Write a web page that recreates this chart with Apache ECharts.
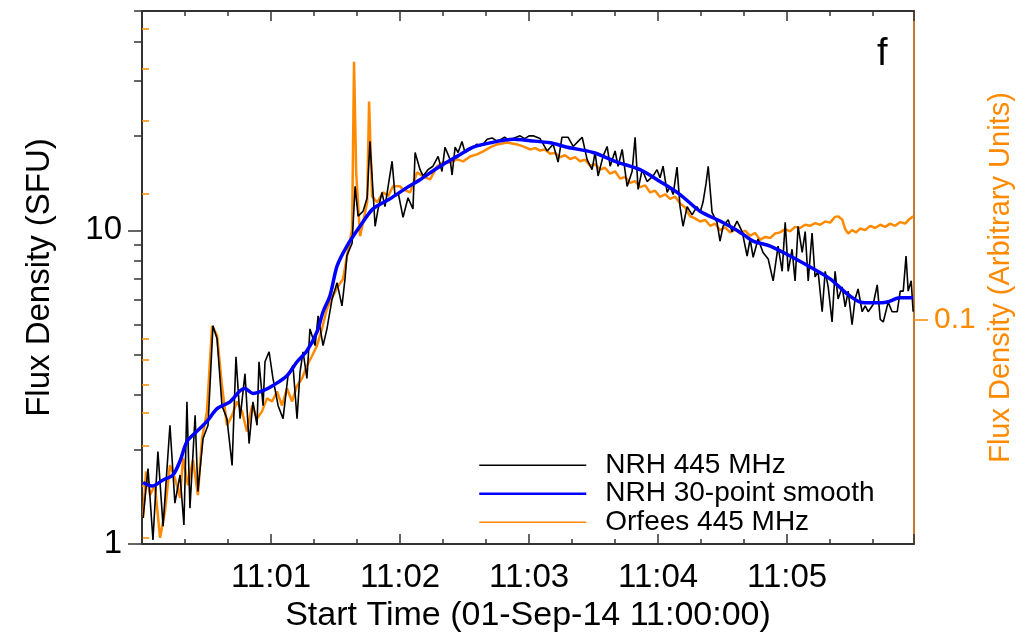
<!DOCTYPE html>
<html><head><meta charset="utf-8">
<script src="https://cdn.jsdelivr.net/npm/echarts@6/dist/echarts.min.js"></script>
<style>html,body{margin:0;padding:0;background:#fff}#c{width:1036px;height:638px}</style>
</head><body><div id="c"></div>
<script>
// ---- data (seconds after 11:00:00) ----
const nrhTimes = [0.5,2.8,5.1,7.4,9.8,13.0,15.3,17.7,19.5,20.9,22.3,24.7,26.0,28.4,30.7,33.0,34.9,37.2,39.5,41.9,43.7,45.6,47.9,49.8,51.6,53.5,54.4,56.3,57.2,59.1,60.9,63.3,65.6,67.9,70.2,72.1,73.5,74.9,76.7,78.1,80.5,81.9,84.2,86.0,88.4,90.7,93.0,94.4,95.3,97.7,99.1,100.5,102.8,104.7,106.0,108.4,109.8,111.6,113.0,116.3,117.7,119.1,121.4,123.7,126.0,127.0,129.3,130.7,133.0,135.3,137.7,139.5,140.9,143.3,144.2,145.6,147.0,148.8,150.2,152.6,153.9,155.8,157.2,158.6,160.5,162.8,164.7,166.5,168.6,170.5,172.6,174.0,175.8,178.0,180.0,181.9,185.1,188.4,191.2,193.5,195.3,198.1,200.5,202.8,204.7,207.0,209.3,210.7,212.1,214.4,216.3,217.7,220.0,221.4,223.3,225.6,227.9,229.3,230.7,232.6,234.9,237.7,239.5,240.9,242.3,244.2,245.6,247.0,248.8,250.2,251.6,253.5,255.8,258.1,259.5,260.9,262.3,263.3,265.1,267.4,268.8,270.2,272.6,274.4,276.7,279.1,281.4,282.8,284.2,286.5,288.8,291.2,293.5,295.8,297.7,299.1,300.5,302.3,303.7,305.1,307.0,308.4,309.8,311.6,313.0,314.4,316.3,317.7,319.1,320.9,322.3,323.7,325.6,327.0,328.4,330.2,331.6,333.0,334.9,336.3,337.7,340.0,341.9,343.3,344.7,347.0,348.8,351.2,352.6,354.0,355.3,356.3,357.7,358.6];
const nrhFlux = [1.21,1.74,1.03,1.97,1.14,2.39,1.35,1.66,1.15,2.84,1.30,2.57,1.47,2.17,2.39,4.96,4.51,2.76,2.51,1.78,3.95,2.51,3.49,2.09,2.84,2.39,3.81,2.76,3.81,4.10,3.37,2.76,2.51,3.44,3.71,2.51,3.54,4.10,3.37,4.85,4.29,5.34,4.29,4.85,6.04,6.8,5.74,7.0,8.3,9.1,13.8,11.1,11.5,12.7,19.2,10.3,11.7,13.2,11.9,16.6,12.8,13.2,11.0,12.7,11.7,17.7,15.6,14.9,15.6,16.0,17.2,15.4,18.4,16.8,15.0,18.4,17.7,19.2,17.7,18.1,18.4,18.8,18.6,18.8,19.5,19.7,19.3,19.4,19.8,19.4,19.6,19.8,20.0,19.6,20.0,20.0,19.6,17.9,18.8,16.5,19.8,19.8,18.5,19.2,19.8,16.8,15.6,17.7,14.9,17.2,18.5,16.0,17.9,16.0,18.1,13.8,15.4,19.8,13.5,15.6,14.3,14.9,15.6,14.7,16.0,13.2,13.8,13.0,15.9,11.9,10.3,11.9,11.2,11.9,11.4,12.3,14.1,16.0,11.4,10.6,9.23,10.3,10.8,9.9,10.7,9.9,8.28,9.38,8.2,9.38,8.5,8.1,6.9,8.9,7.4,10.6,7.4,8.7,6.9,10.3,8.5,9.9,6.9,9.8,7.1,7.4,5.5,7.4,6.6,5.1,7.4,6.04,6.6,5.7,6.4,5.0,6.04,6.5,5.5,5.74,5.5,5.8,6.7,5.2,5.1,5.9,5.5,5.5,6.4,6.4,8.28,6.4,6.9,5.5];

const smoothTimes = [0.5,4.7,9.8,14.4,17.7,20.9,25.6,30.2,34.9,40.9,45.6,47.9,51.6,56.3,60.9,67.4,72.1,76.7,81.4,84.2,87.4,90.7,95.3,101.4,107.4,115.3,123.3,129.3,138.6,146.5,154.0,161.9,172.6,180.5,189.8,197.7,209.8,220.9,231.6,240.9,250.2,259.5,268.8,278.1,284.2,292.1,301.4,310.7,320.0,327.9,333.9,340.0,346.5,352.5,358.6];
const smoothFlux = [1.57,1.53,1.60,1.66,1.84,2.12,2.29,2.46,2.70,2.84,3.08,3.13,3.02,3.08,3.20,3.44,3.81,4.13,4.75,5.5,6.18,7.69,8.91,10.3,11.7,12.6,13.7,14.5,16.0,17.2,18.4,19.0,19.5,19.3,19.0,18.4,17.7,16.5,15.6,14.3,13.0,11.5,10.7,9.86,9.23,8.91,8.28,7.64,7.00,6.27,5.91,5.87,5.91,6.09,6.09];

const orfeesTimes = [0.5,1.9,3.7,6.0,8.4,10.7,13.0,15.3,17.7,19.1,21.4,23.7,26.0,27.9,30.2,32.6,34.9,37.2,39.5,41.9,44.2,46.5,48.8,51.2,53.5,55.8,58.1,60.5,62.8,65.1,67.4,69.8,72.1,74.4,76.7,79.1,81.4,83.7,86.0,88.8,91.2,93.5,95.3,97.7,98.6,99.6,101.4,102.8,104.7,105.6,107.0,109.3,112.1,114.5,116.7,120.0,121.4,124.7,127.9,130.7,134.0,137.2,140.0,143.3,146.5,149.3,152.6,155.8,158.6,161.9,165.1,169.8,174.4,177.2,180.5,182.8,185.1,187.4,189.8,192.1,194.4,196.7,199.1,201.4,203.7,206.0,208.4,210.7,213.0,215.3,217.7,220.0,222.3,224.7,227.0,229.3,231.6,234.0,236.3,238.6,240.9,243.3,245.6,247.9,250.2,252.6,254.9,257.2,259.5,261.9,264.2,266.5,268.8,271.2,273.5,275.8,278.1,280.5,282.8,285.1,287.4,289.8,292.1,294.4,296.7,299.1,301.4,303.7,306.0,308.4,310.7,313.0,315.3,317.7,320.0,322.3,323.7,325.6,327.0,328.4,330.2,332.1,333.9,336.3,338.6,340.9,343.3,345.6,347.9,350.2,352.6,354.9,356.7,358.6];
const orfeesFlux = [0.0335,0.0433,0.0380,0.0401,0.0300,0.0348,0.0448,0.0417,0.0374,0.0466,0.0401,0.0461,0.0380,0.0519,0.0603,0.0967,0.0916,0.0695,0.0558,0.0590,0.0637,0.0603,0.0540,0.0623,0.0580,0.0603,0.0648,0.0637,0.0673,0.0623,0.0684,0.0637,0.0695,0.0723,0.0776,0.0820,0.0867,0.0952,0.1063,0.1141,0.1205,0.1253,0.1422,0.1649,0.4156,0.2257,0.1587,0.1714,0.1913,0.3335,0.1977,0.1913,0.2021,0.1980,0.2089,0.2089,0.2055,0.2021,0.2257,0.2207,0.2171,0.2332,0.2384,0.2384,0.2424,0.2398,0.2464,0.2492,0.2533,0.2590,0.2633,0.2662,0.2633,0.2604,0.2561,0.2580,0.2545,0.2560,0.2500,0.2510,0.2455,0.2480,0.2430,0.2455,0.2400,0.2420,0.2340,0.2360,0.2290,0.2315,0.2240,0.2270,0.2180,0.2200,0.2130,0.2150,0.2080,0.2100,0.2020,0.2040,0.1970,0.2000,0.1950,0.1975,0.1900,0.1860,0.1770,0.1750,0.1720,0.1735,0.1680,0.1700,0.1640,0.1665,0.1620,0.1645,0.1610,0.1635,0.1590,0.1615,0.1555,0.1580,0.1570,0.1610,0.1620,0.1650,0.1630,0.1670,0.1660,0.1690,0.1680,0.1705,0.1690,0.1720,0.1710,0.1765,0.1770,0.1740,0.1650,0.1610,0.1640,0.1620,0.1655,0.1640,0.1680,0.1660,0.1690,0.1670,0.1700,0.1680,0.1715,0.1700,0.1740,0.1770];

// ---- axes ----
const xTickSeconds = [60,120,180,240,300];
const xTickLabels = ['11:01','11:02','11:03','11:04','11:05'];
const leftRange = [1, 50];
const leftMajor = [1, 10];
const leftMinor = [2,3,4,5,6,7,8,9,20,30,40,50];
const rightRange = [0.029, 0.55];
const rightMajor = [0.1];
const rightMinor = [0.03,0.04,0.05,0.06,0.07,0.08,0.09,0.2,0.3,0.4,0.5];

const FONT = '"Liberation Sans", Arial, Helvetica, sans-serif';
const lg = v => Math.log10(v);
const ORANGE = '#ff8a00';
const pairs = (ts, vs) => ts.map((t, i) => [t, lg(vs[i])]);

const xCommon = (pos, labels) => ({
  type: 'value', min: 0, max: 359, interval: 60, position: pos,
  axisLine: { show: true, onZero: false, lineStyle: { color: '#333', width: 2 } },
  axisTick: { show: true, inside: true, length: 10, lineStyle: { color: '#333', width: 1.5 } },
  minorTick: { show: true, splitNumber: 3, length: 5, lineStyle: { color: '#333', width: 1.5 } },
  splitLine: { show: false }, minorSplitLine: { show: false },
  axisLabel: labels ? {
    show: true, fontSize: 33, fontFamily: FONT, color: '#000', margin: 17,
    formatter: v => { const i = xTickSeconds.indexOf(v); return i >= 0 ? xTickLabels[i] : ''; }
  } : { show: false }
});

const chart = echarts.init(document.getElementById('c'), null, { renderer: 'canvas' });
chart.setOption({
  animation: false,
  backgroundColor: '#fff',
  grid: { left: 142, right: 122, top: 11, bottom: 92 },
  xAxis: [
    Object.assign(xCommon('bottom', true), {
      name: 'Start Time (01-Sep-14 11:00:00)', nameLocation: 'middle', nameGap: 55,
      nameTextStyle: { fontSize: 34, fontFamily: FONT, color: '#000' }
    }),
    xCommon('top', false)
  ],
  yAxis: [
    {
      type: 'value', position: 'left', min: lg(leftRange[0]), max: lg(leftRange[1]),
      axisLine: { show: true, onZero: false, lineStyle: { color: '#333', width: 2 } },
      axisTick: { show: true, inside: false, length: 14, customValues: leftMajor.map(lg), lineStyle: { color: '#333', width: 1.5 } },
      axisLabel: { show: true, customValues: leftMajor.map(lg), formatter: v => String(Math.round(Math.pow(10, v))),
        fontSize: 33, fontFamily: FONT, color: '#000', margin: 20 },
      splitLine: { show: false },
      name: 'Flux Density (SFU)', nameLocation: 'middle', nameGap: 86, nameRotate: 90,
      nameTextStyle: { fontSize: 33, fontFamily: FONT, color: '#000' }
    },
    {
      type: 'value', position: 'left', min: lg(leftRange[0]), max: lg(leftRange[1]),
      axisLine: { show: false },
      axisTick: { show: true, inside: false, length: 8, customValues: leftMinor.map(lg), lineStyle: { color: '#333', width: 1.5 } },
      axisLabel: { show: false }, splitLine: { show: false }
    },
    {
      type: 'value', position: 'right', min: lg(rightRange[0]), max: lg(rightRange[1]),
      axisLine: { show: true, onZero: false, lineStyle: { color: '#c27a30', width: 2 } },
      axisTick: { show: true, inside: false, length: 14, customValues: rightMajor.map(lg), lineStyle: { color: ORANGE, width: 1.5 } },
      axisLabel: { show: true, customValues: rightMajor.map(lg), formatter: v => String(Math.round(Math.pow(10, v) * 100) / 100),
        fontSize: 30, fontFamily: FONT, color: ORANGE, margin: 20 },
      splitLine: { show: false },
      name: 'Flux Density (Arbitrary Units)', nameLocation: 'middle', nameGap: 62, nameRotate: 90,
      nameTextStyle: { fontSize: 29, fontFamily: FONT, color: ORANGE }
    },
    {
      type: 'value', position: 'right', min: lg(rightRange[0]), max: lg(rightRange[1]),
      axisLine: { show: false },
      axisTick: { show: true, inside: false, length: 7, customValues: rightMinor.map(lg), lineStyle: { color: ORANGE, width: 1.5 } },
      axisLabel: { show: false }, splitLine: { show: false }
    }
  ],
  legend: {
    orient: 'vertical', left: 478, top: 451, padding: 0, itemGap: 0,
    itemWidth: 107, itemHeight: 14, selectedMode: false,
    itemStyle: { opacity: 0 },
    data: [
      { name: 'NRH 445 MHz', lineStyle: { width: 1.5 }, itemStyle: { opacity: 0 } },
      { name: 'NRH 30-point smooth', lineStyle: { width: 2.5 }, itemStyle: { opacity: 0 } },
      { name: 'Orfees 445 MHz', lineStyle: { width: 1.5 }, itemStyle: { opacity: 0 } }
    ],
    textStyle: { fontSize: 28, fontFamily: FONT, color: '#000', lineHeight: 28.5, padding: [0, 0, 0, 14] }
  },
  graphic: [
    { type: 'text', left: 877, top: 36, style: { text: 'f', font: '38px "Liberation Sans", Arial, sans-serif', fill: '#000' } }
  ],
  series: [
    { name: 'Orfees 445 MHz', type: 'line', xAxisIndex: 0, yAxisIndex: 2, data: pairs(orfeesTimes, orfeesFlux),
      symbol: 'none', showSymbol: false, lineStyle: { color: ORANGE, width: 2.5 }, itemStyle: { color: ORANGE } },
    { name: 'NRH 445 MHz', type: 'line', xAxisIndex: 0, yAxisIndex: 0, data: pairs(nrhTimes, nrhFlux),
      symbol: 'none', showSymbol: false, lineStyle: { color: '#000', width: 1.6 }, itemStyle: { color: '#000' } },
    { name: 'NRH 30-point smooth', type: 'line', xAxisIndex: 0, yAxisIndex: 0, data: pairs(smoothTimes, smoothFlux),
      symbol: 'none', showSymbol: false, smooth: 0.3, lineStyle: { color: '#0000ff', width: 3.5 }, itemStyle: { color: '#0000ff' } }
  ]
});
</script>
</body></html>
